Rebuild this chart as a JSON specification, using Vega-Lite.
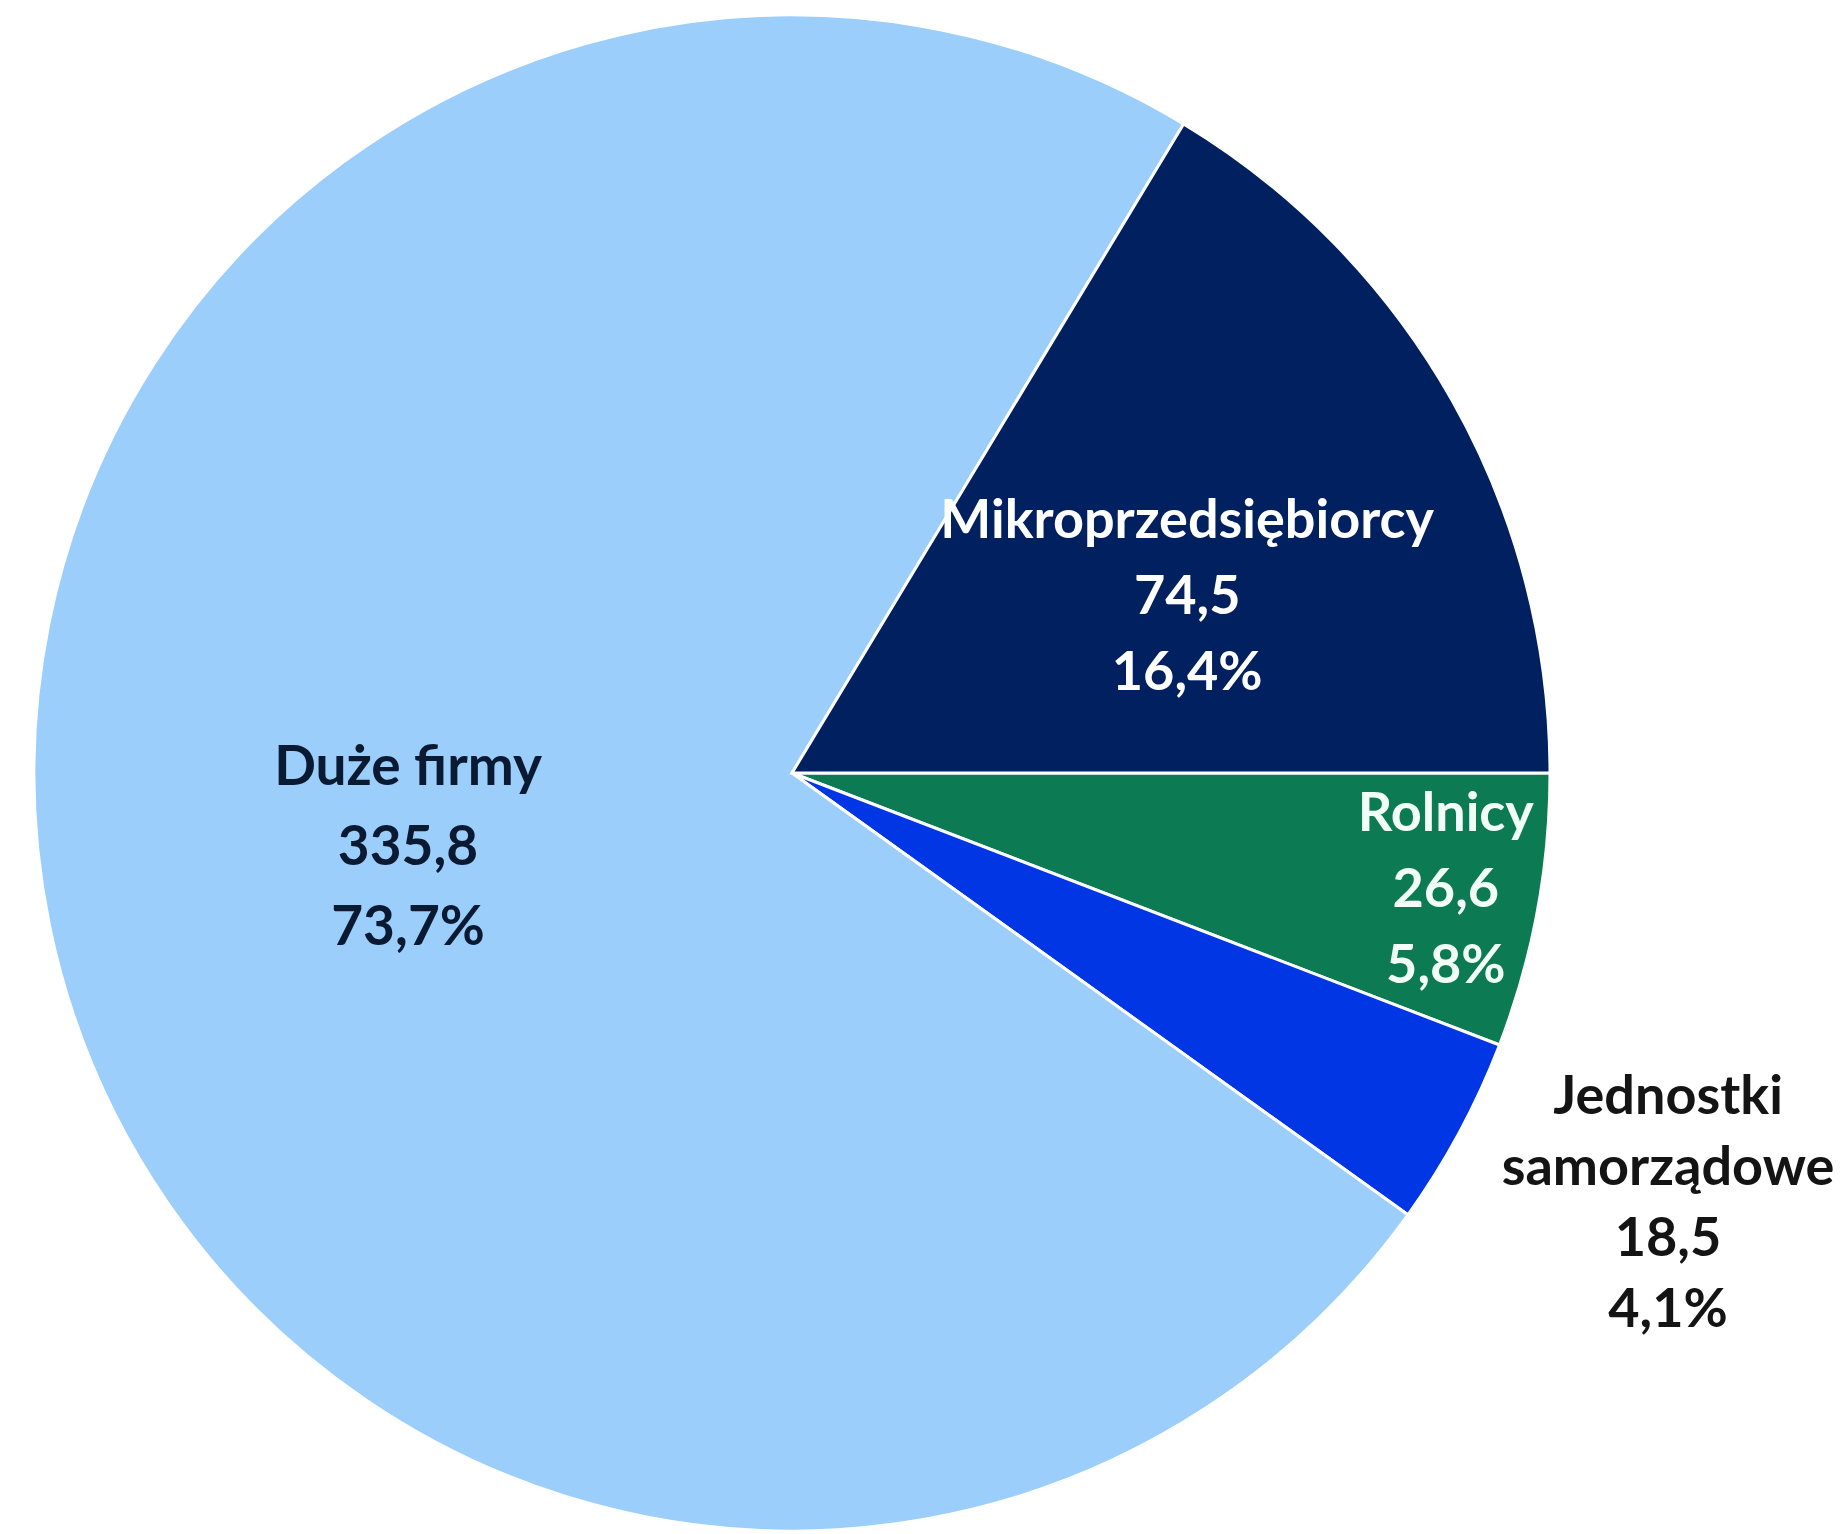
{
  "$schema": "https://vega.github.io/schema/vega-lite/v6.json",
  "width": 1584,
  "height": 1520,
  "autosize": {"type": "none"},
  "padding": {"left": 0, "top": 13, "right": 260, "bottom": 1},
  "background": "white",
  "view": {"stroke": null},
  "data": {
    "values": [
      {"category": "Rolnicy", "value": 26.6, "pct": 5.8, "order": 1},
      {"category": "Jednostki samorządowe", "value": 18.5, "pct": 4.1, "order": 2},
      {"category": "Duże firmy", "value": 335.8, "pct": 73.7, "order": 3},
      {"category": "Mikroprzedsiębiorcy", "value": 74.5, "pct": 16.4, "order": 4}
    ]
  },
  "transform": [
    {"calculate": "(datum.category === 'Jednostki samorządowe' ? 'Jednostki\\nsamorządowe' : datum.category) + '\\n' + replace(format(datum.value, '.1f'), '.', ',') + '\\n' + replace(format(datum.pct, '.1f'), '.', ',') + '%'", "as": "label"}
  ],
  "encoding": {
    "theta": {"field": "value", "type": "quantitative", "stack": true, "scale": {"range": [1.5707963, 7.8539816]}},
    "order": {"field": "order", "type": "quantitative"}
  },
  "layer": [
    {
      "mark": {"type": "arc", "outerRadius": 758, "stroke": "white", "strokeWidth": 3},
      "encoding": {
        "color": {
          "field": "category",
          "type": "nominal",
          "scale": {
            "domain": ["Rolnicy", "Jednostki samorządowe", "Duże firmy", "Mikroprzedsiębiorcy"],
            "range": ["#0C7B53", "#0036E3", "#9BCEFB", "#002060"]
          },
          "legend": null
        }
      }
    },
    {
      "mark": {"type": "text", "radius": 392, "dy": -84, "font": "Lato", "fontWeight": "bold", "fontSize": 55, "lineHeight": 80, "lineBreak": "\n", "align": "center", "baseline": "middle", "fill": "#0B1A33"},
      "encoding": {"text": {"condition": {"test": "datum.category === 'Duże firmy'", "field": "label"}, "value": ""}}
    },
    {
      "mark": {"type": "text", "radius": 432, "dx": 19, "dy": -39, "font": "Lato", "fontWeight": "bold", "fontSize": 54, "lineHeight": 76, "lineBreak": "\n", "align": "center", "baseline": "middle", "fill": "white"},
      "encoding": {"text": {"condition": {"test": "datum.category === 'Mikroprzedsiębiorcy'", "field": "label"}, "value": ""}}
    },
    {
      "mark": {"type": "text", "radius": 665, "dy": -79, "font": "Lato", "fontWeight": "bold", "fontSize": 54, "lineHeight": 76, "lineBreak": "\n", "align": "center", "baseline": "middle", "fill": "#F2FFF8"},
      "encoding": {"text": {"condition": {"test": "datum.category === 'Rolnicy'", "field": "label"}, "value": ""}}
    },
    {
      "mark": {"type": "text", "radius": 976, "dx": 17, "dy": -138, "font": "Lato", "fontWeight": "bold", "fontSize": 54, "lineHeight": 71, "lineBreak": "\n", "align": "center", "baseline": "middle", "fill": "#141414"},
      "encoding": {"text": {"condition": {"test": "datum.category === 'Jednostki samorządowe'", "field": "label"}, "value": ""}}
    }
  ]
}
